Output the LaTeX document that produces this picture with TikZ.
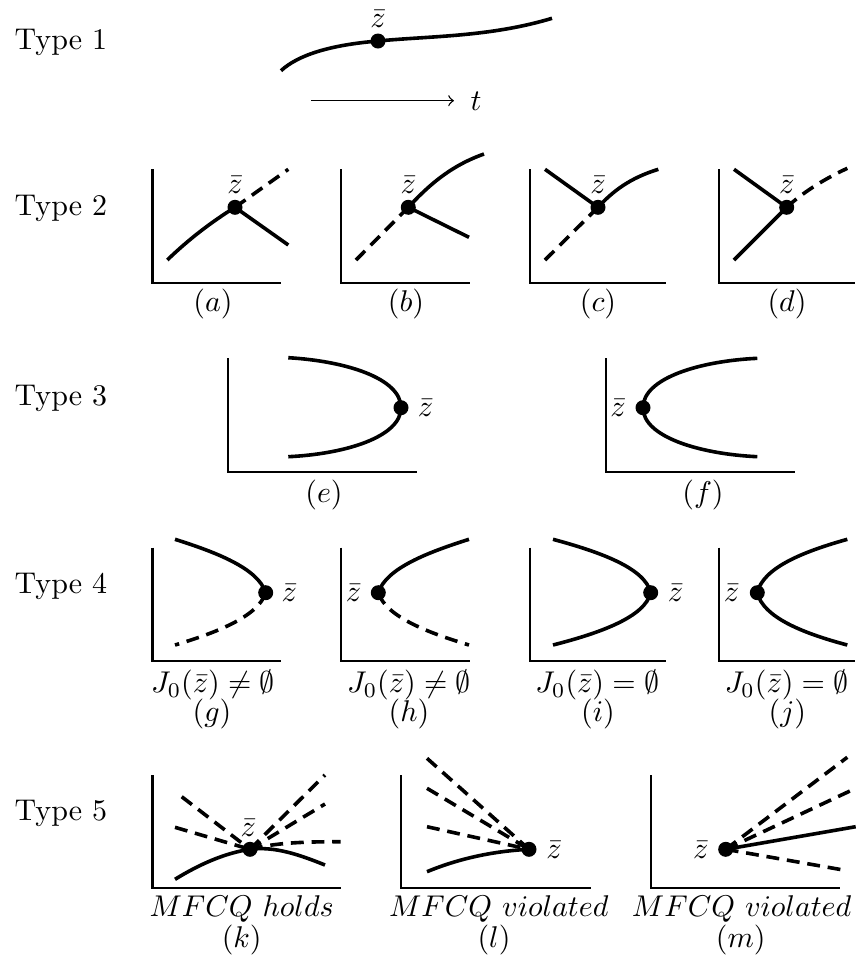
\documentclass[tikz,border=0pt]{standalone}
\begin{document}
\begin{tikzpicture}[x=0.33333pt,y=-0.33333pt,
  curve/.style={line width=1.2pt},
  dcurve/.style={line width=1.2pt,dash pattern=on 4.3pt off 2.6pt},
  axis/.style={line width=0.8pt},
  dot/.style={circle,fill=black,inner sep=0pt,minimum size=5pt},
  lbl/.style={anchor=base,inner sep=0pt},
  lblw/.style={anchor=base west,inner sep=0pt},
  lble/.style={anchor=base east,inner sep=0pt}]
\useasboundingbox (0,0) rectangle (859,959);
% ---------- Type 1 ----------
\node[lblw] (t1) at (14,49) {Type 1};
\node[dot] (z1) at (378,41) {};
\draw[curve] (281,70.7) .. controls (298,55) and (330,45) .. (z1.center)
  .. controls (430,36) and (490,37) .. (552,18.3);
\node[lbl] (z1l) at (378,27) {$\bar z$};
\coordinate (ar1) at (311,100.7);
\coordinate (ar2) at (454,100.7);
\draw[line width=0.45pt,->] (ar1) -- (ar2);
\node[lbl] (tl) at (476,110) {$t$};
% ---------- Type 2 ----------
\node[lblw] (t2) at (14,215) {Type 2};
% (a)
\draw[axis] (152.3,169.3) -- (152.3,282.7) -- (281,282.7);
\node[dot] (da) at (235,207.3) {};
\draw[curve] (167.3,260) .. controls (190,238) and (213,221) .. (da.center);
\draw[curve] (da.center) -- (288.3,245);
\draw[dcurve] (da.center) -- (288.3,169.3);
\node[lbl] (zal) at (235,193) {$\bar z$};
\node[lbl] (la) at (213,311.8) {$(a)$};
% (b)
\draw[axis] (340.7,169.3) -- (340.7,282.7) -- (469.7,282.7);
\node[dot] (db) at (408.3,207.3) {};
\draw[dcurve] (356,260) -- (db.center);
\draw[curve] (db.center) .. controls (428,186) and (450,166) .. (484,154);
\draw[curve] (db.center) -- (469,237.3);
\node[lbl] (zbl) at (408.3,193) {$\bar z$};
\node[lbl] (lb) at (406,311.8) {$(b)$};
% (c)
\draw[axis] (529.7,169.3) -- (529.7,282.7) -- (665.7,282.7);
\node[dot] (dc) at (598,207.3) {};
\draw[curve] (545,169.3) -- (dc.center);
\draw[curve] (dc.center) .. controls (613,191) and (630,178) .. (658.3,169.3);
\draw[dcurve] (545,260) -- (dc.center);
\node[lbl] (zcl) at (598,193) {$\bar z$};
\node[lbl] (lc) at (598,311.8) {$(c)$};
% (d)
\draw[axis] (719,169.3) -- (719,282.7) -- (855,282.7);
\node[dot] (dd) at (786.7,207.3) {};
\draw[curve] (734,169.3) -- (dd.center);
\draw[curve] (734,260) -- (dd.center);
\draw[dcurve] (dd.center) .. controls (800,195) and (820,181) .. (847.3,168.3);
\node[lbl] (zdl) at (786.7,193) {$\bar z$};
\node[lbl] (ld) at (787,311.8) {$(d)$};
% ---------- Type 3 ----------
\node[lblw] (t3) at (14,405) {Type 3};
% (e)
\draw[axis] (227.7,358.3) -- (227.7,471.7) -- (416.7,471.7);
\node[dot] (de) at (401,407.7) {};
\draw[curve] (288.3,357.7) .. controls (345,361) and (401,378) .. (de.center)
  .. controls (401,437) and (345,454) .. (288.3,456.7);
\node[lblw] (zel) at (417.3,416.5) {$\bar z$};
\node[lbl] (le) at (324,502.5) {$(e)$};
% (f)
\draw[axis] (605.7,358.3) -- (605.7,471.7) -- (794.7,471.7);
\node[dot] (df) at (643,407.7) {};
\draw[curve] (757.3,358.3) .. controls (700,361) and (643,378) .. (df.center)
  .. controls (643,437) and (700,454) .. (757.3,456.7);
\node[lble] (zfl) at (626.3,416.5) {$\bar z$};
\node[lbl] (lf) at (703,502.5) {$(f)$};
% ---------- Type 4 ----------
\node[lblw] (t4) at (14,593.3) {Type 4};
% (g)
\draw[axis] (152.3,547.7) -- (152.3,660.7) -- (281,660.7);
\node[dot] (dg) at (265.7,592.7) {};
\draw[curve] (175,539.3) .. controls (215,552) and (258,568) .. (dg.center);
\draw[dcurve] (dg.center) .. controls (258,617) and (215,633) .. (175,645);
\node[lblw] (zgl) at (281,601) {$\bar z$};
\node[lbl] (jg) at (213,692.5) {$J_0(\bar z)\neq\emptyset$};
\node[lbl] (lg) at (212,721) {$(g)$};
% (h)
\draw[axis] (340.7,547.7) -- (340.7,660.7) -- (469.7,660.7);
\node[dot] (dh) at (378.3,592.7) {};
\draw[curve] (dh.center) .. controls (386,568) and (429,552) .. (469,539.3);
\draw[dcurve] (dh.center) .. controls (386,617) and (429,633) .. (469,645);
\node[lble] (zhl) at (361.7,601) {$\bar z$};
\node[lbl] (jh) at (409,692.5) {$J_0(\bar z)\neq\emptyset$};
\node[lbl] (lh) at (409,721) {$(h)$};
% (i)
\draw[axis] (529.7,547.7) -- (529.7,660.7) -- (665.7,660.7);
\node[dot] (di) at (650.7,592.7) {};
\draw[curve] (553,539.3) .. controls (600,552) and (645,568) .. (di.center)
  .. controls (645,617) and (600,633) .. (553,645);
\node[lblw] (zil) at (667.3,601) {$\bar z$};
\node[lbl] (ji) at (597.3,692.5) {$J_0(\bar z)=\emptyset$};
\node[lbl] (li) at (598,721) {$(i)$};
% (j)
\draw[axis] (719,547.7) -- (719,660.7) -- (855,660.7);
\node[dot] (dj) at (757.3,592.7) {};
\draw[curve] (847.3,539.3) .. controls (802,552) and (763,568) .. (dj.center)
  .. controls (763,617) and (802,633) .. (847.3,645);
\node[lble] (zjl) at (739.7,601) {$\bar z$};
\node[lbl] (jj) at (786.6,692.5) {$J_0(\bar z)=\emptyset$};
\node[lbl] (lj) at (787.3,721) {$(j)$};
% ---------- Type 5 ----------
\node[lblw] (t5) at (14,820) {Type 5};
% (k)
\draw[axis] (152.3,775) -- (152.3,887.7) -- (340.7,887.7);
\node[dot] (dk) at (250,849.3) {};
\draw[curve] (175,879.3) .. controls (200,864) and (225,853) .. (dk.center)
  .. controls (275,846) and (300,855) .. (325,865);
\draw[dcurve] (181.7,796.7) -- (dk.center);
\draw[dcurve] (175,827.3) -- (dk.center);
\draw[dcurve] (dk.center) -- (325,775);
\draw[dcurve] (dk.center) -- (325,804);
\draw[dcurve] (dk.center) .. controls (275,843) and (300,841.7) .. (340.7,841.7);
\node[lbl] (zkl) at (248.3,836.7) {$\bar z$};
\node[lbl] (mk) at (241.7,916.5) {$MFCQ\ holds$};
\node[lbl] (lk) at (241.7,947.5) {$(k)$};
% (l)
\draw[axis] (401,775) -- (401,887.7) -- (590.7,887.7);
\node[dot] (dl) at (529,849.3) {};
\draw[dcurve] (427,758.3) -- (dl.center);
\draw[dcurve] (427,788.3) -- (dl.center);
\draw[dcurve] (427,826.7) -- (dl.center);
\draw[curve] (427,871.7) .. controls (460,858) and (495,851) .. (dl.center);
\node[lblw] (zll) at (545.7,858) {$\bar z$};
\node[lbl] (ml) at (498.8,916.5) {$MFCQ\ violated$};
\node[lbl] (ll) at (494,947.5) {$(l)$};
% (m)
\draw[axis] (650.7,775) -- (650.7,887.7) -- (839.7,887.7);
\node[dot] (dm) at (725.7,849.3) {};
\draw[dcurve] (dm.center) -- (847.3,757.3);
\draw[dcurve] (dm.center) -- (855.7,788.3);
\draw[curve] (dm.center) -- (855.7,826.7);
\draw[dcurve] (dm.center) -- (847.3,870.7);
\node[lble] (zml) at (709,858) {$\bar z$};
\node[lbl] (mm) at (741.7,916.5) {$MFCQ\ violated$};
\node[lbl] (lm) at (740.7,947.5) {$(m)$};
\end{tikzpicture}
\end{document}
